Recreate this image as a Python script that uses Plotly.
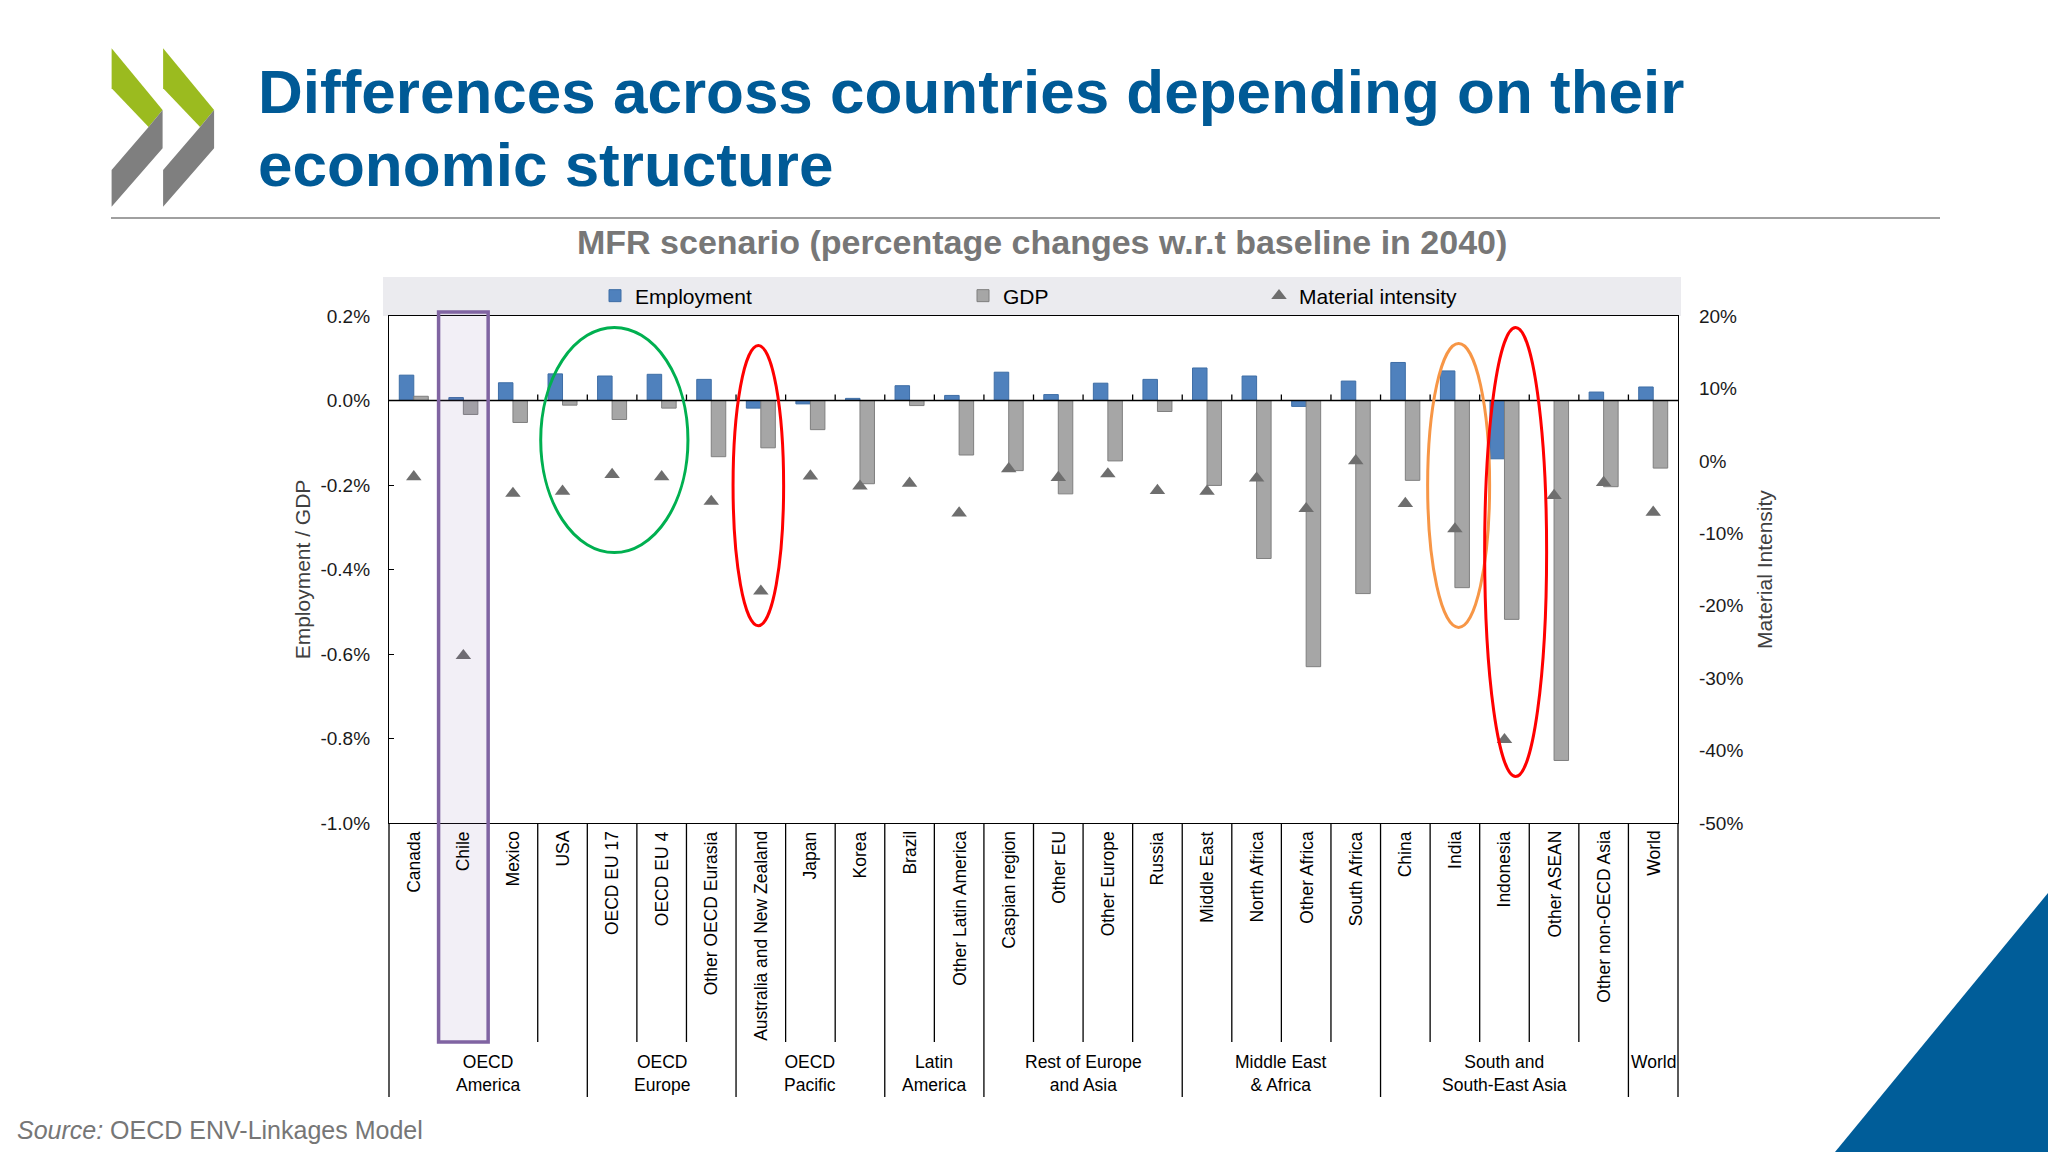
import plotly.graph_objects as go

# ---------------- data ----------------
categories = ["Canada", "Chile", "Mexico", "USA", "OECD EU 17", "OECD EU 4",
              "Other OECD Eurasia", "Australia and New Zealand", "Japan", "Korea",
              "Brazil", "Other Latin America", "Caspian region", "Other EU",
              "Other Europe", "Russia", "Middle East", "North Africa", "Other Africa",
              "South Africa", "China", "India", "Indonesia", "Other ASEAN",
              "Other non-OECD Asia", "World"]
employment = [0.060, 0.007, 0.042, 0.063, 0.058, 0.062, 0.050, -0.018, -0.008, 0.005,
              0.035, 0.012, 0.067, 0.014, 0.041, 0.050, 0.077, 0.058, -0.014, 0.046,
              0.090, 0.070, -0.138, 0.000, 0.020, 0.032]
gdp = [0.010, -0.033, -0.052, -0.011, -0.045, -0.018, -0.133, -0.112, -0.069, -0.197,
       -0.012, -0.129, -0.166, -0.221, -0.143, -0.026, -0.201, -0.374, -0.630, -0.457,
       -0.189, -0.443, -0.518, -0.852, -0.204, -0.160]
material_intensity = [-2.2, -26.9, -4.5, -4.2, -1.9, -2.2, -5.6, -18.0, -2.1, -3.5,
                      -3.1, -7.2, -1.1, -2.3, -1.8, -4.1, -4.2, -2.4, -6.6, 0.0,
                      -5.9, -9.4, -38.5, -4.8, -3.0, -7.1]
group_names = ["OECD<br>America", "OECD<br>Europe", "OECD<br>Pacific", "Latin<br>America",
               "Rest of Europe<br>and Asia", "Middle East<br>& Africa",
               "South and<br>South-East Asia", "World"]
group_first = [0, 4, 7, 10, 12, 16, 20, 25]
group_last = [3, 6, 9, 11, 15, 19, 24, 25]
left_tick_vals = [-1.0, -0.8, -0.6, -0.4, -0.2, 0.0, 0.2]
left_tick_text = ["-1.0%", "-0.8%", "-0.6%", "-0.4%", "-0.2%", "0.0%", "0.2%"]
right_tick_vals = [-50, -40, -30, -20, -10, 0, 10, 20]
right_tick_text = ["-50%", "-40%", "-30%", "-20%", "-10%", "0%", "10%", "20%"]

# ---------------- geometry helpers ----------------
W, H = 2048, 1152
L, R, T, B = 389, 1678, 316, 823


def px(x):
    return (x - L) / (R - L)


def py(y):
    return (B - y) / (B - T)


FONT = "Liberation Sans, Arial, sans-serif"
TITLE_BLUE = "#005A96"

fig = go.Figure()
fig.add_trace(go.Bar(x=categories, y=employment, name="Employment",
                     marker=dict(color="#4F81BD", line=dict(color="#3E6EA6", width=1)),
                     legend="legend"))
fig.add_trace(go.Bar(x=categories, y=gdp, name="GDP",
                     marker=dict(color="#A6A6A6", line=dict(color="#7F7F7F", width=1)),
                     legend="legend2"))
fig.add_trace(go.Scatter(x=categories, y=material_intensity, name="Material intensity",
                         mode="markers", yaxis="y2",
                         marker=dict(symbol="triangle-up", size=13.5, color="#6E6E6E"),
                         legend="legend3"))

shapes = []
# legend band
shapes.append(dict(type="rect", xref="paper", yref="paper", x0=px(383), x1=px(1681),
                   y0=py(316), y1=py(277), fillcolor="#EBEBEF", line=dict(width=0),
                   layer="below"))
# zero line
shapes.append(dict(type="line", xref="paper", yref="y", x0=0, x1=1, y0=0, y1=0,
                   line=dict(color="black", width=1.6), layer="above"))
n = len(categories)
group_bounds = set(g - 0.5 for g in group_first) | {n - 0.5}
for i in range(1, n):
    b = i - 0.5
    # small ticks on the zero line
    shapes.append(dict(type="line", xref="x", yref="y", ysizemode="pixel", yanchor=0,
                       x0=b, x1=b, y0=0, y1=6, line=dict(color="black", width=1.3)))
    # table dividers
    bottom = py(1097) if b in group_bounds else py(1042)
    shapes.append(dict(type="line", xref="x", yref="paper", x0=b, x1=b, y0=0, y1=bottom,
                       line=dict(color="black", width=1.3)))
for xe in (0, 1):
    shapes.append(dict(type="line", xref="paper", yref="paper", x0=xe, x1=xe, y0=0,
                       y1=py(1097), line=dict(color="black", width=1.3)))

# highlight rectangle (Chile)
shapes.append(dict(type="rect", xref="x", yref="paper", x0=0.5, x1=1.5,
                   y0=py(1042), y1=py(312), fillcolor="rgba(128,100,162,0.10)",
                   line=dict(color="#8064A2", width=3.5), layer="above"))
# ellipses
shapes.append(dict(type="circle", xref="x", yref="y", x0=2.56, x1=5.53, y0=-0.36, y1=0.173,
                   line=dict(color="#00B050", width=3)))
shapes.append(dict(type="circle", xref="x", yref="y", x0=6.44, x1=7.46, y0=-0.533, y1=0.130,
                   line=dict(color="#FF0000", width=3)))
shapes.append(dict(type="circle", xref="x", yref="y", x0=20.45, x1=21.7, y0=-0.537, y1=0.135,
                   line=dict(color="#F79646", width=3)))
shapes.append(dict(type="circle", xref="x", yref="y", x0=21.6, x1=22.85, y0=-0.89, y1=0.173,
                   line=dict(color="#FF0000", width=3)))


def path(points):
    return "M " + " L ".join(f"{px(x):.5f},{py(y):.5f}" for x, y in points) + " Z"


# OECD logo chevrons
for dx in (0, 51.5):
    green = [(111.6 + dx, 48.3), (162.6 + dx, 110), (148.6 + dx, 127), (111.6 + dx, 88.3)]
    gray = [(162.6 + dx, 110), (162.6 + dx, 148.3), (111.6 + dx, 206.7),
            (111.6 + dx, 170), (148.6 + dx, 127)]
    shapes.append(dict(type="path", xref="paper", yref="paper", path=path(green),
                       fillcolor="#9BBB1F", line=dict(width=0)))
    shapes.append(dict(type="path", xref="paper", yref="paper", path=path(gray),
                       fillcolor="#7F7F7F", line=dict(width=0)))
# rule under title
shapes.append(dict(type="line", xref="paper", yref="paper", x0=px(111), x1=px(1940),
                   y0=py(218), y1=py(218), line=dict(color="#A0A0A0", width=2)))
# corner triangle
shapes.append(dict(type="path", xref="paper", yref="paper",
                   path=path([(1835, 1152), (2048, 893), (2048, 1152)]),
                   fillcolor="#005D99", line=dict(width=0)))

annotations = []
annotations.append(dict(text="Differences across countries depending on their",
                        xref="paper", yref="paper", x=px(256), y=py(92),
                        xanchor="left", yanchor="middle", showarrow=False,
                        font=dict(family=FONT, size=62, color=TITLE_BLUE, weight="bold")))
annotations.append(dict(text="economic structure",
                        xref="paper", yref="paper", x=px(256), y=py(164),
                        xanchor="left", yanchor="middle", showarrow=False,
                        font=dict(family=FONT, size=62, color=TITLE_BLUE, weight="bold")))
annotations.append(dict(text="MFR scenario (percentage changes w.r.t baseline in 2040)",
                        xref="paper", yref="paper", x=px(1042), y=py(242),
                        xanchor="center", yanchor="middle", showarrow=False,
                        font=dict(family=FONT, size=34, color="#777777", weight="bold")))
annotations.append(dict(text="<i>Source:</i> OECD ENV-Linkages Model",
                        xref="paper", yref="paper", x=px(15), y=py(1130),
                        xanchor="left", yanchor="middle", showarrow=False,
                        font=dict(family=FONT, size=25, color="#767676")))
for c in categories:
    annotations.append(dict(text=c, xref="x", yref="paper", x=c, y=py(829),
                            textangle=-90, xanchor="center", yanchor="top",
                            showarrow=False, font=dict(family=FONT, size=17.5, color="black")))
for name, a, b in zip(group_names, group_first, group_last):
    annotations.append(dict(text=name, xref="x", yref="paper", x=(a + b) / 2, y=py(1050),
                            xanchor="center", yanchor="top", showarrow=False,
                            font=dict(family=FONT, size=17.5, color="black")))

legend_common = dict(xref="paper", yref="paper", xanchor="left", yanchor="middle",
                     orientation="h", bgcolor="rgba(0,0,0,0)", borderwidth=0,
                     font=dict(family=FONT, size=21, color="black"))
ly = py(296)

fig.update_layout(
    width=W, height=H, autosize=False,
    margin=dict(l=L, r=W - R, t=T, b=H - B, pad=0, autoexpand=False),
    plot_bgcolor="white", paper_bgcolor="white",
    barmode="group", bargap=0.415, bargroupgap=0,
    showlegend=True,
    legend=dict(x=px(595), y=ly, **legend_common),
    legend2=dict(x=px(963), y=ly, **legend_common),
    legend3=dict(x=px(1259), y=ly, **legend_common),
    xaxis=dict(type="category", range=[-0.5, n - 0.5], showticklabels=False, ticks="",
               showline=True, mirror=True, linecolor="black", linewidth=1.3,
               showgrid=False, zeroline=False),
    yaxis=dict(range=[-1.0, 0.2], tickvals=left_tick_vals, ticktext=left_tick_text,
               ticks="inside", ticklen=5, tickcolor="black", ticklabelstandoff=14,
               showline=True, linecolor="black", linewidth=1.3, showgrid=False,
               zeroline=False, automargin=False,
               tickfont=dict(family=FONT, size=19, color="#1A1A1A"),
               title=dict(text="Employment / GDP", standoff=4,
                          font=dict(family=FONT, size=21, color="#404040"))),
    yaxis2=dict(range=[-50, 20], tickvals=right_tick_vals, ticktext=right_tick_text,
                overlaying="y", side="right", ticks="", ticklabelstandoff=16,
                showline=True, linecolor="black", linewidth=1.3, showgrid=False,
                zeroline=False, automargin=False,
                tickfont=dict(family=FONT, size=19, color="#1A1A1A"),
                title=dict(text="Material Intensity", standoff=14,
                           font=dict(family=FONT, size=21, color="#404040"))),
    shapes=shapes,
    annotations=annotations,
)

fig.write_html("out.html")
